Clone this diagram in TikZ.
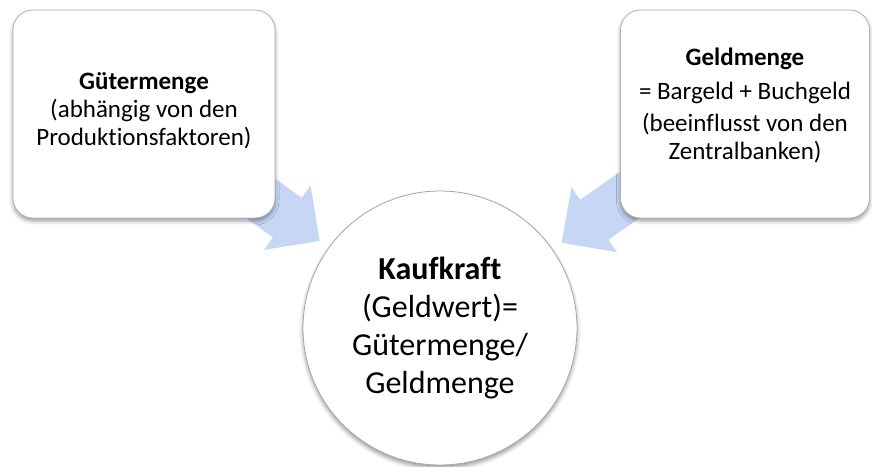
\documentclass[tikz,border=0pt]{standalone}
\usepackage{fontspec}
\setmainfont{Carlito}[Ligatures=NoCommon]
\usetikzlibrary{positioning}
\usetikzlibrary{arrows.meta}
\usetikzlibrary{shadows.blur}
\usetikzlibrary{backgrounds}
\definecolor{flowblue}{RGB}{198,215,246}
\tikzset{x=1pt, y=-1pt,
    box/.style={
        draw=gray!60,
        line width=0.8pt,
        fill=white,
        rounded corners=20pt,
        align=center,
        minimum height=208pt,
        font=\fontsize{25}{28}\selectfont,
        blur shadow={shadow xshift=0pt, shadow yshift=-3pt,
            shadow blur radius=4pt}},
    kreis/.style={
        circle,
        draw=gray!70,
        line width=0.8pt,
        fill=white,
        minimum size=274pt,
        inner sep=0pt,
        align=center,
        font=\fontsize{32}{38}\selectfont,
        blur shadow={shadow xshift=0pt, shadow yshift=-3pt,
            shadow blur radius=4pt}},
    flow/.style={
        draw=flowblue,
        line width=49pt,
        -{Triangle[length=40pt,width=77pt]},
        shorten >=11pt}}

\begin{document}
\begin{tikzpicture}
        \useasboundingbox (0,0) rectangle (872,466);
        \node[kreis] (kk) at (440,328) {\textbf{Kaufkraft}\\(Geldwert)=\\Gütermenge/\\Geldmenge};
        \node[box, minimum width=262pt] (gm) at (144,114) {\textbf{Gütermenge}\\(abhängig von den\\Produktionsfaktoren)\rule[-10pt]{0pt}{10pt}};
        \node[box, minimum width=249pt] (gd) at (745,114) {\textbf{Geldmenge}\\[6pt]= Bargeld + Buchgeld\\[4pt](beeinflusst von den\\Zentralbanken)\rule[-20pt]{0pt}{20pt}};
        \begin{scope}[on background layer]
            \draw[flow] (gm.center) -- (kk);
            \draw[flow] (gd.center) -- (kk);
        \end{scope}
    \end{tikzpicture}
\end{document}
